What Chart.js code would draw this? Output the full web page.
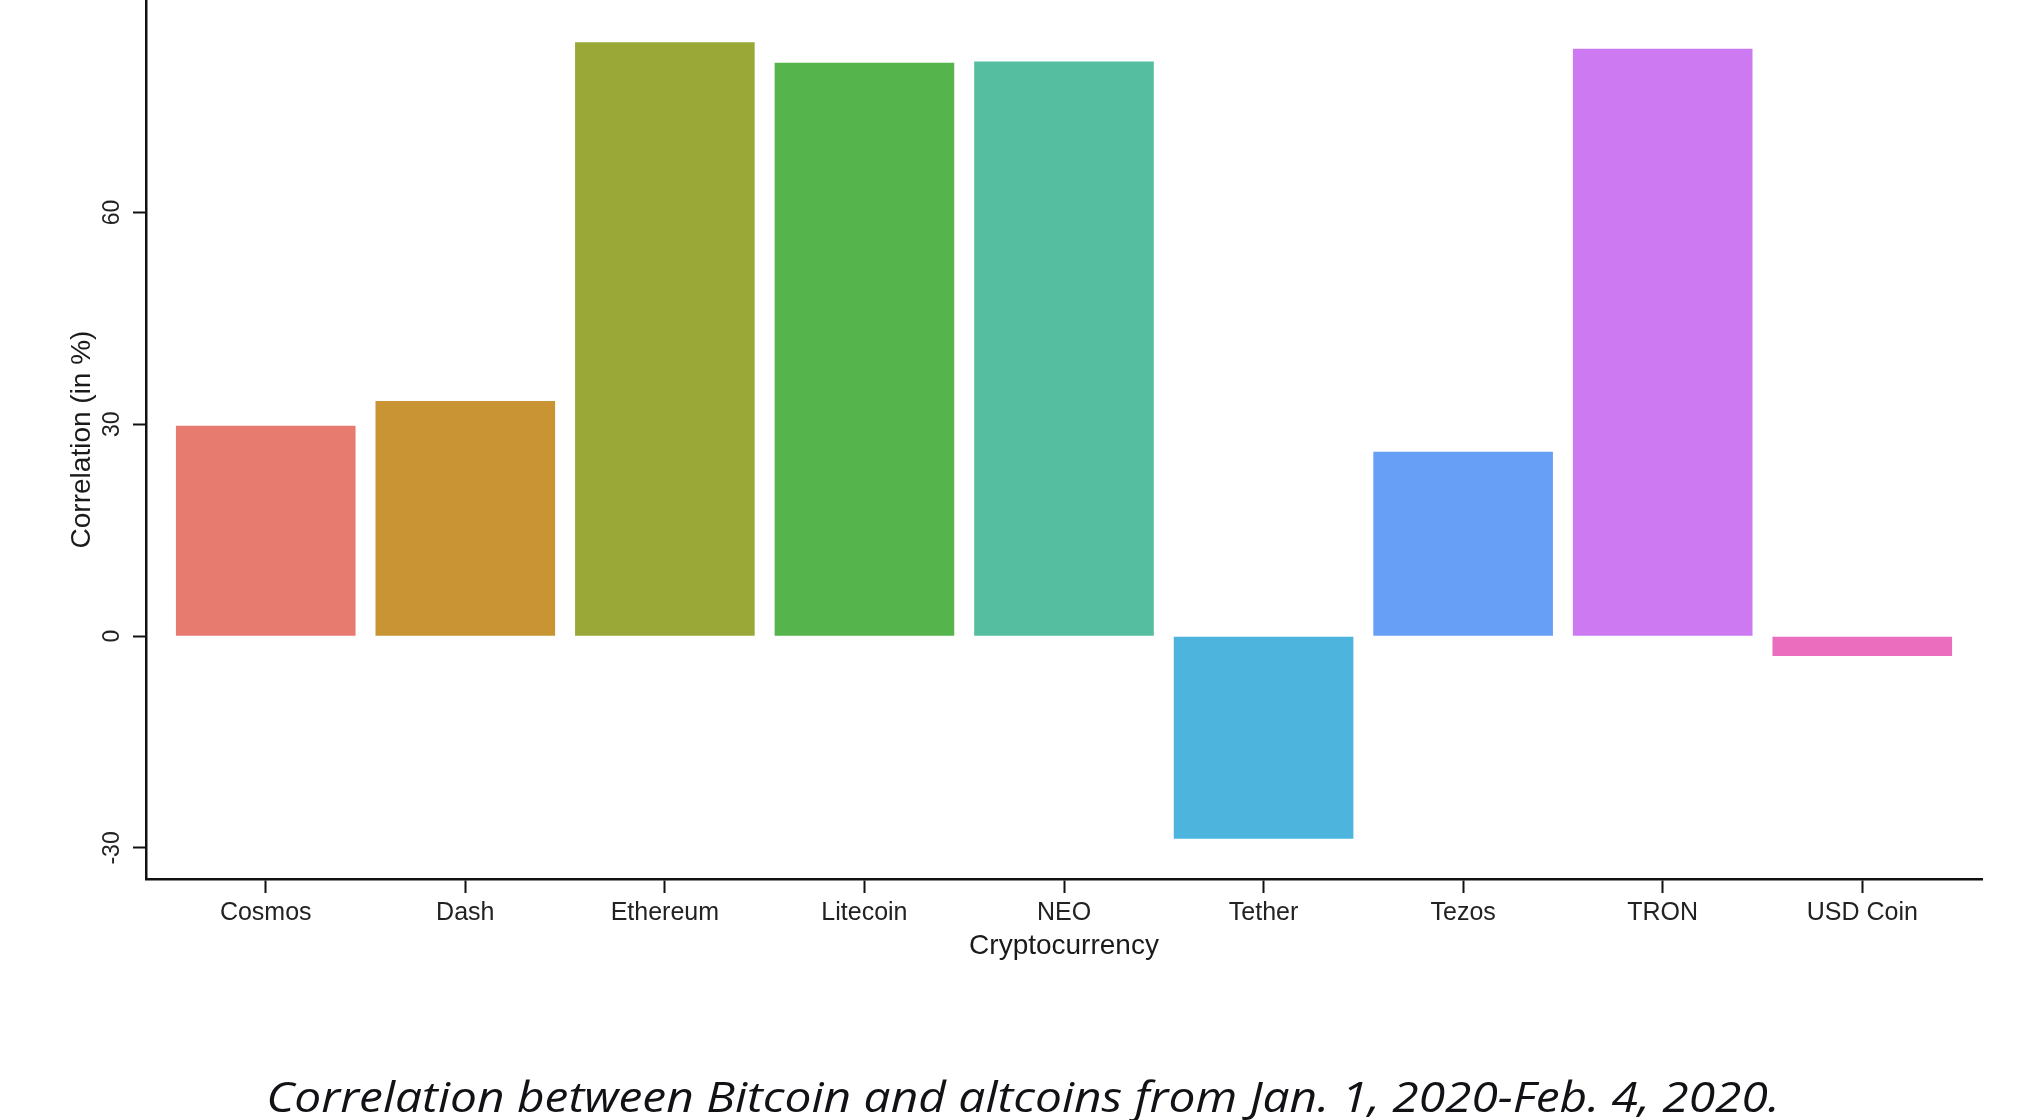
<!DOCTYPE html>
<html>
<head>
<meta charset="utf-8">
<script src="https://cdn.jsdelivr.net/npm/chart.js@4"></script>
<style>
  html, body { margin: 0; padding: 0; background: #ffffff; }
  #wrap { width: 2024px; height: 1120px; position: relative; overflow: hidden; }
  canvas { display: block; position: absolute; left: 0; top: 0; }
  #caption {
    position: absolute; left: 11px; top: 1071px; width: 2024px;
    text-align: center; white-space: nowrap;
    font-family: 'Open Sans', 'Noto Sans', sans-serif; font-style: italic; font-weight: normal;
    font-size: 42px; line-height: 50px; color: #111116;
    transform: scaleX(1.14); transform-origin: 50% 50%;
  }
</style>
</head>
<body>
<div id="wrap">
  <canvas id="c" width="2024" height="1120"></canvas>
  <div id="caption"></div>
</div>
<script>
// ---- data ----
const categories = ["Cosmos", "Dash", "Ethereum", "Litecoin", "NEO", "Tether", "Tezos", "TRON", "USD Coin"];
const correlation = [29.8, 33.3, 84.1, 81.2, 81.4, -28.7, 26.1, 83.2, -2.8];
const barColors = ["#E77B70", "#C99434", "#9AA837", "#55B54C", "#55BEA0", "#4DB4DE", "#679EF6", "#CC79F2", "#EB6DBE"];
const yTicks = [-30, 0, 30, 60];
const yTitle = "Correlation (in %)";
const xTitle = "Cryptocurrency";
const caption = "Correlation between Bitcoin and altcoins from Jan. 1, 2020-Feb. 4, 2020.";

document.getElementById('caption').textContent = caption;

const points = categories.map((c, i) => ({ x: i + 1, y: correlation[i] }));
const sans = "'Liberation Sans', Arial, Helvetica, sans-serif";

function zeroPad(s) { s.paddingTop = 0; s.paddingBottom = 0; s.paddingLeft = 0; s.paddingRight = 0; }

new Chart(document.getElementById('c'), {
  type: 'bar',
  data: {
    datasets: [{
      data: points,
      backgroundColor: barColors,
      borderWidth: 0,
      barPercentage: 0.9,
      categoryPercentage: 1.0
    }]
  },
  options: {
    responsive: false,
    animation: false,
    devicePixelRatio: 1,
    layout: { padding: { left: 22, right: 42, top: 0, bottom: 0 } },
    plugins: {
      legend: { display: false },
      tooltip: { enabled: false },
      title: { display: false }
    },
    scales: {
      x: {
        type: 'linear',
        offset: false,
        min: 0.4,
        max: 9.6,
        afterBuildTicks: (s) => { s.ticks = categories.map((c, i) => ({ value: i + 1 })); },
        afterFit: (s) => { s.height = 241; zeroPad(s); },
        ticks: {
          autoSkip: false,
          maxRotation: 0,
          minRotation: 0,
          padding: 5,
          color: '#222222',
          font: { family: sans, size: 25 },
          callback: (v) => categories[v - 1]
        },
        grid: {
          display: true,
          offset: false,
          drawOnChartArea: false,
          drawTicks: true,
          tickLength: 14,
          tickWidth: 2,
          tickColor: '#111111'
        },
        border: { display: true, color: '#111111', width: 2.5 },
        title: {
          display: true,
          text: xTitle,
          color: '#1a1a1a',
          font: { family: sans, size: 28, lineHeight: 1.2 },
          padding: { top: 0, bottom: 157 }
        }
      },
      y: {
        type: 'linear',
        min: -34.4,
        max: 90.1,
        afterBuildTicks: (s) => { s.ticks = yTicks.map(v => ({ value: v })); },
        afterFit: (s) => { s.width = 124; zeroPad(s); },
        ticks: {
          minRotation: 90,
          maxRotation: 90,
          crossAlign: 'center',
          padding: 3.6,
          color: '#222222',
          font: { family: sans, size: 23 }
        },
        grid: {
          display: true,
          drawOnChartArea: false,
          drawTicks: true,
          tickLength: 13,
          tickWidth: 2,
          tickColor: '#111111'
        },
        border: { display: true, color: '#111111', width: 2.5 },
        title: {
          display: true,
          text: yTitle,
          color: '#1a1a1a',
          font: { family: sans, size: 28, lineHeight: 1.2 },
          padding: { top: 43, bottom: 0 }
        }
      }
    }
  }
});
</script>
</body>
</html>
